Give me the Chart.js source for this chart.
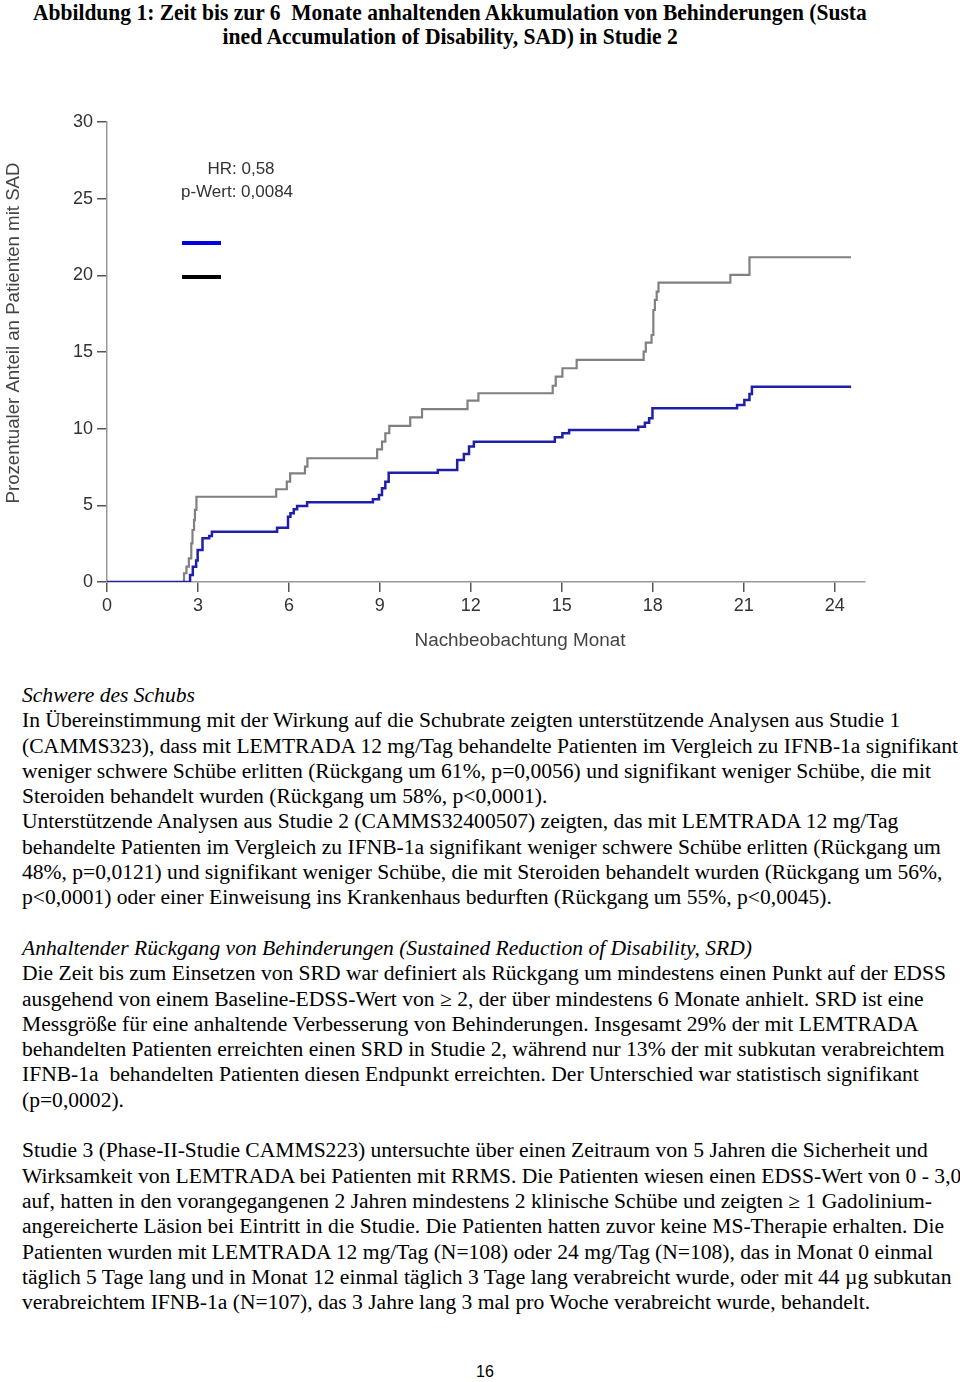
<!DOCTYPE html>
<html>
<head>
<meta charset="utf-8">
<script src="https://cdn.jsdelivr.net/npm/chart.js@4.4.1/dist/chart.umd.min.js"></script>
<style>
  html, body { margin: 0; padding: 0; background: #fff; }
  body { width: 960px; height: 1382px; position: relative; overflow: hidden; }
  .title { position: absolute; left: 0; width: 900px; text-align: center; font: bold 23px/25px "Liberation Serif", serif; color: #000; white-space: nowrap; }
  .title span { display: inline-block; transform-origin: center; }
  #chartBox { position: absolute; left: 0; top: 90px; width: 880px; height: 580px; }
  #body { position: absolute; left: 22px; top: 683px; font: 20.5px "Liberation Serif", "Times New Roman", serif; color: #000; transform-origin: left top; }
  #body div { height: 25.3px; line-height: 25.3px; white-space: pre; }
  #body .it { font-style: italic; }
  #page { position: absolute; left: 0; width: 970px; top: 1363px; text-align: center; font: 16px "Liberation Sans", Arial, sans-serif; color: #000; }
</style>
</head>
<body>
<div class="title" style="top:0px"><span id="t1">Abbildung 1: Zeit bis zur 6&nbsp; Monate anhaltenden Akkumulation von Behinderungen (Susta</span></div>
<div class="title" style="top:24px"><span id="t2">ined Accumulation of Disability, SAD) in Studie 2</span></div>
<div id="chartBox"><canvas id="km" width="880" height="580"></canvas></div>
<div id="body"></div>
<div id="page">16</div>
<script>
// ==================== Data ====================
const xTicks = [0, 3, 6, 9, 12, 15, 18, 21, 24];
const yTicks = [0, 5, 10, 15, 20, 25, 30];

// Kaplan-Meier Stufen: Monat, kumulativer Anteil (%)
const lemMonths = [0, 2.74, 2.83, 2.94, 2.99, 3.15, 3.37, 3.46, 5.61, 5.97, 6.05, 6.16, 6.27, 6.6,
    8.77, 8.97, 9.07, 9.18, 9.29, 10.91, 11.55, 11.77, 11.94, 12.1, 14.77, 15.02, 15.24,
    17.52, 17.74, 17.88, 17.99, 20.78, 21.02, 21.19, 21.27, 24.54];
const lemValues = [0, 0.46, 1.0, 1.4, 2.09, 2.85, 3.0, 3.28, 3.54, 4.26, 4.48, 4.74, 4.96, 5.2,
    5.39, 5.67, 6.11, 6.54, 7.13, 7.31, 7.96, 8.35, 8.83, 9.15, 9.44, 9.7, 9.92,
    10.13, 10.39, 10.68, 11.33, 11.55, 11.87, 12.26, 12.74, 12.74];

const ifnMonths = [0, 2.54, 2.62, 2.7, 2.78, 2.82, 2.87, 2.9, 2.95, 5.58, 5.93, 6.04, 6.53, 6.61,
    8.91, 9.07, 9.18, 9.31, 10.0, 10.39, 11.89, 12.25, 14.7, 14.8, 15.02, 15.49,
    17.7, 17.77, 17.96, 18.02, 18.07, 18.13, 18.19, 20.56, 21.19, 24.54];
const ifnValues = [0, 0.57, 1.0, 1.54, 2.52, 3.39, 4.04, 4.7, 5.56, 6.05, 6.54, 7.09, 7.52, 8.07,
    8.65, 9.15, 9.7, 10.18, 10.74, 11.28, 11.83, 12.31, 12.8, 13.39, 13.94, 14.48,
    15.02, 15.61, 16.11, 17.74, 18.4, 18.94, 19.53, 20.03, 21.18, 21.18];

const xTitle = 'Nachbeobachtung Monat';
const yTitle = 'Prozentualer Anteil an Patienten mit SAD';
const statLines = ['HR: 0,58', 'p-Wert: 0,0084'];

const bodyLines = [
    ['Schwere des Schubs', 'it'],
    ['In Übereinstimmung mit der Wirkung auf die Schubrate zeigten unterstützende Analysen aus Studie 1'],
    ['(CAMMS323), dass mit LEMTRADA 12 mg/Tag behandelte Patienten im Vergleich zu IFNB-1a signifikant'],
    ['weniger schwere Schübe erlitten (Rückgang um 61%, p=0,0056) und signifikant weniger Schübe, die mit'],
    ['Steroiden behandelt wurden (Rückgang um 58%, p<0,0001).'],
    ['Unterstützende Analysen aus Studie 2 (CAMMS32400507) zeigten, das mit LEMTRADA 12 mg/Tag'],
    ['behandelte Patienten im Vergleich zu IFNB-1a signifikant weniger schwere Schübe erlitten (Rückgang um'],
    ['48%, p=0,0121) und signifikant weniger Schübe, die mit Steroiden behandelt wurden (Rückgang um 56%,'],
    ['p<0,0001) oder einer Einweisung ins Krankenhaus bedurften (Rückgang um 55%, p<0,0045).'],
    [''],
    ['Anhaltender Rückgang von Behinderungen (Sustained Reduction of Disability, SRD)', 'it'],
    ['Die Zeit bis zum Einsetzen von SRD war definiert als Rückgang um mindestens einen Punkt auf der EDSS'],
    ['ausgehend von einem Baseline-EDSS-Wert von ≥ 2, der über mindestens 6 Monate anhielt. SRD ist eine'],
    ['Messgröße für eine anhaltende Verbesserung von Behinderungen. Insgesamt 29% der mit LEMTRADA'],
    ['behandelten Patienten erreichten einen SRD in Studie 2, während nur 13% der mit subkutan verabreichtem'],
    ['IFNB-1a  behandelten Patienten diesen Endpunkt erreichten. Der Unterschied war statistisch signifikant'],
    ['(p=0,0002).'],
    [''],
    ['Studie 3 (Phase-II-Studie CAMMS223) untersuchte über einen Zeitraum von 5 Jahren die Sicherheit und'],
    ['Wirksamkeit von LEMTRADA bei Patienten mit RRMS. Die Patienten wiesen einen EDSS-Wert von 0 - 3,0'],
    ['auf, hatten in den vorangegangenen 2 Jahren mindestens 2 klinische Schübe und zeigten ≥ 1 Gadolinium-'],
    ['angereicherte Läsion bei Eintritt in die Studie. Die Patienten hatten zuvor keine MS-Therapie erhalten. Die'],
    ['Patienten wurden mit LEMTRADA 12 mg/Tag (N=108) oder 24 mg/Tag (N=108), das in Monat 0 einmal'],
    ['täglich 5 Tage lang und in Monat 12 einmal täglich 3 Tage lang verabreicht wurde, oder mit 44 µg subkutan'],
    ['verabreichtem IFNB-1a (N=107), das 3 Jahre lang 3 mal pro Woche verabreicht wurde, behandelt.']
];

// ==================== Text ====================
const bodyEl = document.getElementById('body');
bodyEl.innerHTML = bodyLines.map(([txt, cls]) => `<div class="${cls || ''}"><span>${txt.replace(/</g, '&lt;')}</span></div>`).join('');
// Zeile 3 ist im Original 936px breit
const refSpan = bodyEl.children[2].firstChild;
bodyEl.style.transform = `scaleX(${936 / refSpan.offsetWidth})`;

function fitWidth(id, w) {
    const el = document.getElementById(id);
    el.style.transform = `scaleX(${w / el.offsetWidth})`;
}
fitWidth('t1', 834);
fitWidth('t2', 455);

// ==================== Chart ====================
const toPoints = (xs, ys) => xs.map((x, i) => ({ x, y: ys[i] }));

const annotations = {
    id: 'annotations',
    afterDraw(chart) {
        const ctx = chart.ctx;
        ctx.save();
        ctx.fillStyle = '#333';
        ctx.textAlign = 'center';
        ctx.textBaseline = 'middle';
        ctx.font = '17px "Liberation Sans", Arial, sans-serif';
        ctx.fillText(statLines[0], 241, 79);
        ctx.fillText(statLines[1], 237, 102);

        ctx.lineWidth = 4;
        ctx.strokeStyle = '#0000e0';
        ctx.beginPath(); ctx.moveTo(182, 153); ctx.lineTo(221, 153); ctx.stroke();
        ctx.strokeStyle = '#000';
        ctx.beginPath(); ctx.moveTo(182, 187); ctx.lineTo(221, 187); ctx.stroke();

        ctx.fillStyle = '#444';
        ctx.font = '18px "Liberation Sans", Arial, sans-serif';
        let w = ctx.measureText(xTitle).width;
        ctx.save();
        ctx.translate(520, 551);
        ctx.scale(211 / w, 1);
        ctx.fillText(xTitle, 0, 0);
        ctx.restore();

        w = ctx.measureText(yTitle).width;
        ctx.save();
        ctx.translate(14, 243);
        ctx.rotate(-Math.PI / 2);
        ctx.scale(341 / w, 1);
        ctx.fillText(yTitle, 0, 0);
        ctx.restore();
        ctx.restore();
    }
};

new Chart(document.getElementById('km'), {
    type: 'line',
    data: {
        datasets: [
            {
                data: toPoints(lemMonths, lemValues),
                borderColor: '#1f1fa8',
                borderWidth: 2.5,
                stepped: true,
                pointRadius: 0,
                fill: false
            },
            {
                data: toPoints(ifnMonths, ifnValues),
                borderColor: '#808080',
                borderWidth: 2.2,
                stepped: true,
                pointRadius: 0,
                fill: false
            }
        ]
    },
    options: {
        responsive: false,
        animation: false,
        layout: { padding: { top: 32, right: 15, left: 0, bottom: 0 } },
        plugins: { legend: { display: false }, tooltip: { enabled: false } },
        scales: {
            x: {
                type: 'linear',
                min: 0,
                max: 25,
                afterBuildTicks: s => { s.ticks = xTicks.map(v => ({ value: v })); },
                afterFit: s => { s.height = 88; },
                border: { display: true, color: '#999', width: 1.5 },
                grid: { drawOnChartArea: false, color: '#555', lineWidth: 1.5, tickLength: 10 },
                ticks: { color: '#333', padding: 3, maxRotation: 0, font: { family: '"Liberation Sans", Arial, sans-serif', size: 18 } }
            },
            y: {
                min: 0,
                max: 30,
                afterBuildTicks: s => { s.ticks = yTicks.map(v => ({ value: v })); },
                afterFit: s => { s.width = 107; },
                border: { display: true, color: '#999', width: 1.5 },
                grid: { drawOnChartArea: false, color: '#555', lineWidth: 1.5, tickLength: 10 },
                ticks: { color: '#333', padding: 4, font: { family: '"Liberation Sans", Arial, sans-serif', size: 18 } }
            }
        }
    },
    plugins: [annotations]
});
</script>
</body>
</html>
